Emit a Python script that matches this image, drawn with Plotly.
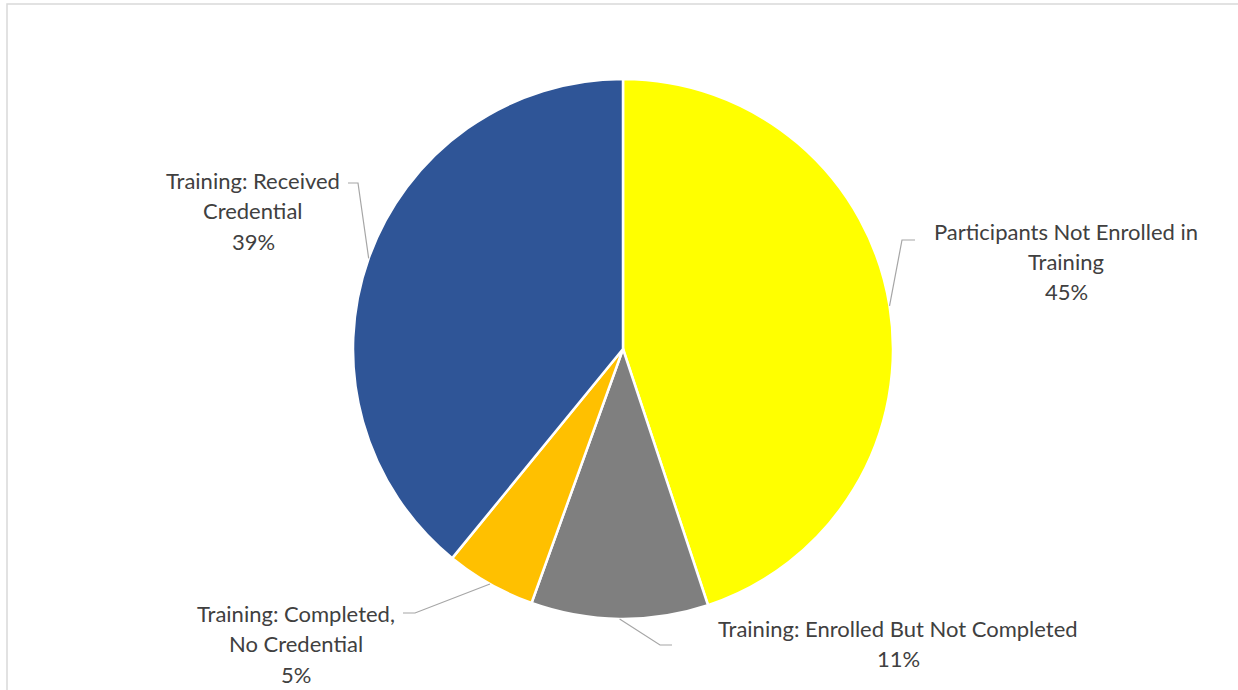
import math
import plotly.graph_objects as go

# ---- data ----
categories = [
    "Participants Not Enrolled in Training",
    "Training: Enrolled But Not Completed",
    "Training: Completed, No Credential",
    "Training: Received Credential",
]
values = [44.9, 10.6, 5.4, 39.1]
colors = ["#FFFF00", "#7F7F7F", "#FFC000", "#2F5597"]

# ---- layout (pixels) ----
W, H = 1238, 690
CX, CY, R = 623, 349, 270
# label line wrapping and positions: (center x, first line y, elbow, end of leader)
label_lines = [
    ["Participants Not Enrolled in", "Training"],
    ["Training: Enrolled But Not Completed"],
    ["Training: Completed,", "No Credential"],
    ["Training: Received", "Credential"],
]
label_pos = [
    dict(x=1066, y=231, elbow=(902, 240), end=(915, 240)),
    dict(x=898, y=628, elbow=(660, 645), end=(672, 645)),
    dict(x=296, y=613, elbow=(415, 613), end=(403, 613)),
    dict(x=253, y=180, elbow=(358, 183), end=(348, 183)),
]
LINE_H = 30.5
FONT = dict(family="Lato, Carlito, Calibri, sans-serif", size=22, color="#404040")


def px(x):
    return x / W


def py(y):
    return 1 - y / H


fig = go.Figure(
    go.Pie(
        labels=categories,
        values=values,
        marker=dict(colors=colors, line=dict(color="#FFFFFF", width=2.5)),
        sort=False,
        direction="clockwise",
        rotation=0,
        textinfo="none",
        hoverinfo="label+percent",
        showlegend=False,
        domain=dict(x=[px(CX - R), px(CX + R)], y=[py(CY + R), py(CY - R)]),
    )
)

total = sum(values)
annotations = []
shapes = []
cum = 0.0
for i, v in enumerate(values):
    mid = (cum + v / 2) / total * 2 * math.pi
    cum += v
    ax = CX + R * math.sin(mid)
    ay = CY - R * math.cos(mid)
    pos = label_pos[i]
    ex, ey = pos["elbow"]
    tx, ty = pos["end"]
    shapes.append(
        dict(
            type="path",
            xref="paper",
            yref="paper",
            path=f"M {px(ax)} {py(ay)} L {px(ex)} {py(ey)} L {px(tx)} {py(ty)}",
            line=dict(color="#A6A6A6", width=1.2),
        )
    )
    lines = label_lines[i] + [f"{round(v / total * 100)}%"]
    for k, t in enumerate(lines):
        annotations.append(
            dict(
                text=t,
                x=px(pos["x"]),
                y=py(pos["y"] + k * LINE_H),
                xref="paper",
                yref="paper",
                xanchor="center",
                yanchor="middle",
                showarrow=False,
                font=FONT,
            )
        )

# chart area border
shapes.append(
    dict(
        type="rect",
        xref="paper",
        yref="paper",
        x0=px(7),
        x1=px(1245),
        y0=py(700),
        y1=py(4),
        line=dict(color="#D9D9D9", width=1.5),
        fillcolor="rgba(0,0,0,0)",
    )
)

fig.update_layout(
    width=W,
    height=H,
    margin=dict(l=0, r=0, t=0, b=0),
    paper_bgcolor="#FFFFFF",
    plot_bgcolor="#FFFFFF",
    annotations=annotations,
    shapes=shapes,
)

fig.write_html(
    "out.html",
    config={"displayModeBar": False},
    post_script="document.body.style.margin='0';document.body.style.overflow='hidden';",
)
